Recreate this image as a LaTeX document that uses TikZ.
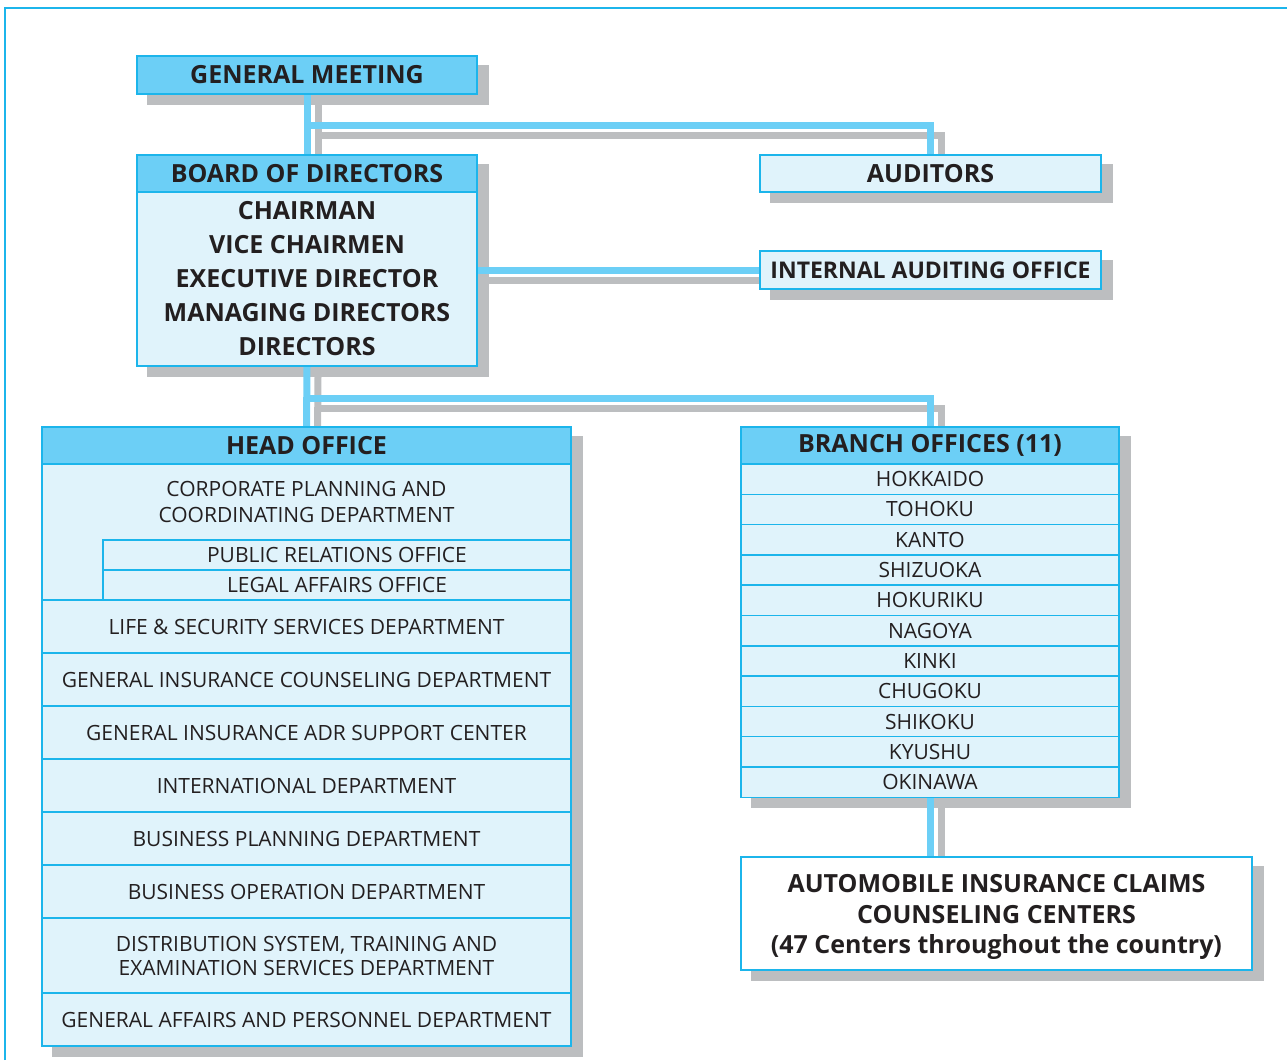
\documentclass[tikz,border=0pt]{standalone}
\usepackage{fontspec}
\setmainfont{Open Sans}
\usetikzlibrary{backgrounds}
\definecolor{hdcyan}{HTML}{6CCFF6}
\definecolor{paleblue}{HTML}{E0F3FB}
\definecolor{edgecyan}{HTML}{1CB5EB}
\definecolor{shadegray}{HTML}{BCBEC0}
\definecolor{inkblack}{HTML}{231F20}

\begin{document}
\begin{tikzpicture}[x=1pt, y=-1pt,
    box/.style={draw=edgecyan, line width=1.5pt, inner sep=0pt, text=inkblack, align=center},
    hdr/.style={box, fill=hdcyan, font=\bfseries\fontsize{25}{28}\selectfont},
    bunit/.style={box, fill=paleblue, font=\bfseries\fontsize{25}{34}\selectfont},
    unit/.style={box, fill=paleblue, font=\fontsize{21}{24}\selectfont},
    boxshadow/.style={fill=shadegray},
    link/.style={draw=hdcyan, line width=7pt},
    linkshade/.style={draw=shadegray, line width=7pt, transform canvas={shift={(11pt,-10pt)}}}]

    \useasboundingbox (0,0) rectangle (1287,1060);

    % Frame
    \draw[edgecyan, line width=2pt] (5,1060) |- (1287,8);

    % Top management
    \node[hdr, minimum width=340, minimum height=38] at (307,75) (gm) {GENERAL MEETING};
    \node[hdr, minimum width=340, minimum height=37] at (307,173.5) (bod) {BOARD OF DIRECTORS};
    \node[bunit, minimum width=340, minimum height=174] at (307,279) (bodlist)
        {CHAIRMAN\\VICE CHAIRMEN\\EXECUTIVE DIRECTOR\\MANAGING DIRECTORS\\DIRECTORS};

    % Audit side
    \node[bunit, minimum width=341, minimum height=37] at (930.5,173.5) (aud) {AUDITORS};
    \node[bunit, font=\bfseries\fontsize{23}{26}\selectfont, minimum width=341, minimum height=38]
        at (930.5,270) (iao) {INTERNAL AUDITING OFFICE};

    % Head office
    \node[hdr, minimum width=529, minimum height=37] at (306.5,445.5) (ho) {HEAD OFFICE};
    \node[unit, minimum width=529, minimum height=136] at (306.5,532) (corp) {};
    \node[font=\fontsize{21}{26}\selectfont, text=inkblack, align=center] at (306.5,502) (corptxt)
        {CORPORATE PLANNING AND\\COORDINATING DEPARTMENT};
    \node[unit, minimum width=468, minimum height=30] at (337,555) (pr) {PUBLIC RELATIONS OFFICE};
    \node[unit, minimum width=468, minimum height=30] at (337,585) (legal) {LEGAL AFFAIRS OFFICE};
    \node[unit, minimum width=529, minimum height=53] at (306.5,626.5) (life) {LIFE \& SECURITY SERVICES DEPARTMENT};
    \node[unit, minimum width=529, minimum height=53] at (306.5,679.5) (gic) {GENERAL INSURANCE COUNSELING DEPARTMENT};
    \node[unit, minimum width=529, minimum height=53] at (306.5,732.5) (adr) {GENERAL INSURANCE ADR SUPPORT CENTER};
    \node[unit, minimum width=529, minimum height=53] at (306.5,785.5) (intl) {INTERNATIONAL DEPARTMENT};
    \node[unit, minimum width=529, minimum height=53] at (306.5,838.5) (bplan) {BUSINESS PLANNING DEPARTMENT};
    \node[unit, minimum width=529, minimum height=53] at (306.5,891.5) (bop) {BUSINESS OPERATION DEPARTMENT};
    \node[unit, minimum width=529, minimum height=75] at (306.5,955.5) (dist)
        {DISTRIBUTION SYSTEM, TRAINING AND\\EXAMINATION SERVICES DEPARTMENT};
    \node[unit, minimum width=529, minimum height=53] at (306.5,1019.5) (ga) {GENERAL AFFAIRS AND PERSONNEL DEPARTMENT};

    % Branch offices
    \node[hdr, minimum width=378, minimum height=37] at (930,445.5) (br) {BRANCH OFFICES (11)};
    \node[unit, minimum width=378, minimum height=30.3] at (930,479.1) (hok) {HOKKAIDO};
    \node[unit, minimum width=378, minimum height=30.3] at (930,509.4) (toh) {TOHOKU};
    \node[unit, minimum width=378, minimum height=30.3] at (930,539.7) (kan) {KANTO};
    \node[unit, minimum width=378, minimum height=30.3] at (930,570.0) (shz) {SHIZUOKA};
    \node[unit, minimum width=378, minimum height=30.3] at (930,600.3) (hkr) {HOKURIKU};
    \node[unit, minimum width=378, minimum height=30.3] at (930,630.6) (nag) {NAGOYA};
    \node[unit, minimum width=378, minimum height=30.3] at (930,660.9) (kin) {KINKI};
    \node[unit, minimum width=378, minimum height=30.3] at (930,691.2) (chu) {CHUGOKU};
    \node[unit, minimum width=378, minimum height=30.3] at (930,721.5) (shk) {SHIKOKU};
    \node[unit, minimum width=378, minimum height=30.3] at (930,751.8) (kyu) {KYUSHU};
    \node[unit, minimum width=378, minimum height=30.3] at (930,782.1) (oki) {OKINAWA};

    % Claims centers
    \node[box, fill=white, font=\bfseries\fontsize{25}{30.5}\selectfont, minimum width=511, minimum height=113]
        at (996.5,913.5) (auto) {};
    \node[font=\bfseries\fontsize{25}{30.5}\selectfont, text=inkblack, align=center] at (996.5,917) (autotxt)
        {AUTOMOBILE INSURANCE CLAIMS\\COUNSELING CENTERS\\(47 Centers throughout the country)};

    % Shadows and connectors
    \begin{scope}[on background layer]
    \fill[boxshadow] ([shift={(11,10)}]gm.north west) rectangle ([shift={(11,10)}]gm.south east);
    \fill[boxshadow] ([shift={(11,10)}]bod.north west) rectangle ([shift={(11,10)}]bodlist.south east);
    \fill[boxshadow] ([shift={(11,10)}]aud.north west) rectangle ([shift={(11,10)}]aud.south east);
    \fill[boxshadow] ([shift={(11,10)}]iao.north west) rectangle ([shift={(11,10)}]iao.south east);
    \fill[boxshadow] ([shift={(11,10)}]ho.north west) rectangle ([shift={(11,10)}]ga.south east);
    \fill[boxshadow] ([shift={(11,10)}]br.north west) rectangle ([shift={(11,10)}]oki.south east);
    \fill[boxshadow] ([shift={(11,10)}]auto.north west) rectangle ([shift={(11,10)}]auto.south east);

    \draw[linkshade] (gm.south) -- (bod.north);
    \draw[linkshade] (gm.south) ++(0,30.5) -| (aud.north);
    \draw[linkshade] (bodlist.east |- iao.west) -- (iao.west);
    \draw[linkshade] (bodlist.south) -- (ho.north);
    \draw[linkshade] (bodlist.south) ++(0,32) -| (br.north);
    \draw[linkshade] (oki.south) -- (oki.south |- auto.north);

    \draw[link] (gm.south) -- (bod.north);
    \draw[link] (gm.south) ++(0,30.5) -| (aud.north);
    \draw[link] (bodlist.east |- iao.west) -- (iao.west);
    \draw[link] (bodlist.south) -- (ho.north);
    \draw[link] (bodlist.south) ++(0,32) -| (br.north);
    \draw[link] (oki.south) -- (oki.south |- auto.north);
    \end{scope}

\end{tikzpicture}
\end{document}
